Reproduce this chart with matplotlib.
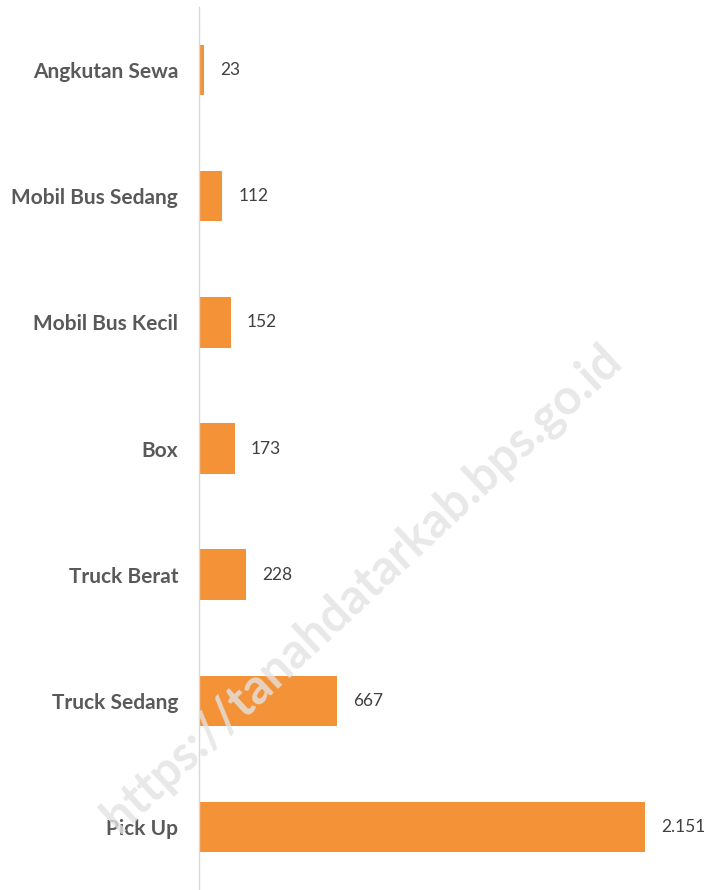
import matplotlib.pyplot as plt

plt.rcParams['font.family'] = ['Lato', 'DejaVu Sans']

# data (top to bottom as in the picture)
jenis = ["Angkutan Sewa", "Mobil Bus Sedang", "Mobil Bus Kecil", "Box",
         "Truck Berat", "Truck Sedang", "Pick Up"]
jumlah = [23, 112, 152, 173, 228, 667, 2151]

bar_color = "#F39237"

fig = plt.figure(figsize=(7.15, 8.9), dpi=100)
ax = fig.add_axes([199 / 715, 0.0, 1 - 199 / 715, 1 - 7 / 890])

ypos = list(range(len(jenis)))
ax.barh(ypos, jumlah, height=0.40, color=bar_color)
ax.set_ylim(len(jenis) - 0.5, -0.5)
ax.set_xlim(0, 2488)

ax.set_yticks(ypos)
ax.set_yticklabels(jenis, fontsize=15, fontweight='bold', color='#595959')
ax.tick_params(axis='y', length=0, pad=15)
ax.set_xticks([])

for s in ['top', 'right', 'bottom']:
    ax.spines[s].set_visible(False)
ax.spines['left'].set_color('#D9D9D9')
ax.spines['left'].set_linewidth(1.0)

for y, v in zip(ypos, jumlah):
    lbl = f"{v:,}".replace(",", ".")
    ax.annotate(lbl, (v, y), xytext=(11.5, 0), textcoords='offset points',
                va='center', ha='left', fontsize=12.5, color='#404040')

# watermark
fig.text(362 / 715, 1 - 588 / 890, "https://tanahdatarkab.bps.go.id",
         rotation=43, fontsize=35, color='#E3E3E3', alpha=0.8,
         ha='center', va='center', fontweight='bold', zorder=0)

fig.savefig("out.png", dpi=100, facecolor='white')
